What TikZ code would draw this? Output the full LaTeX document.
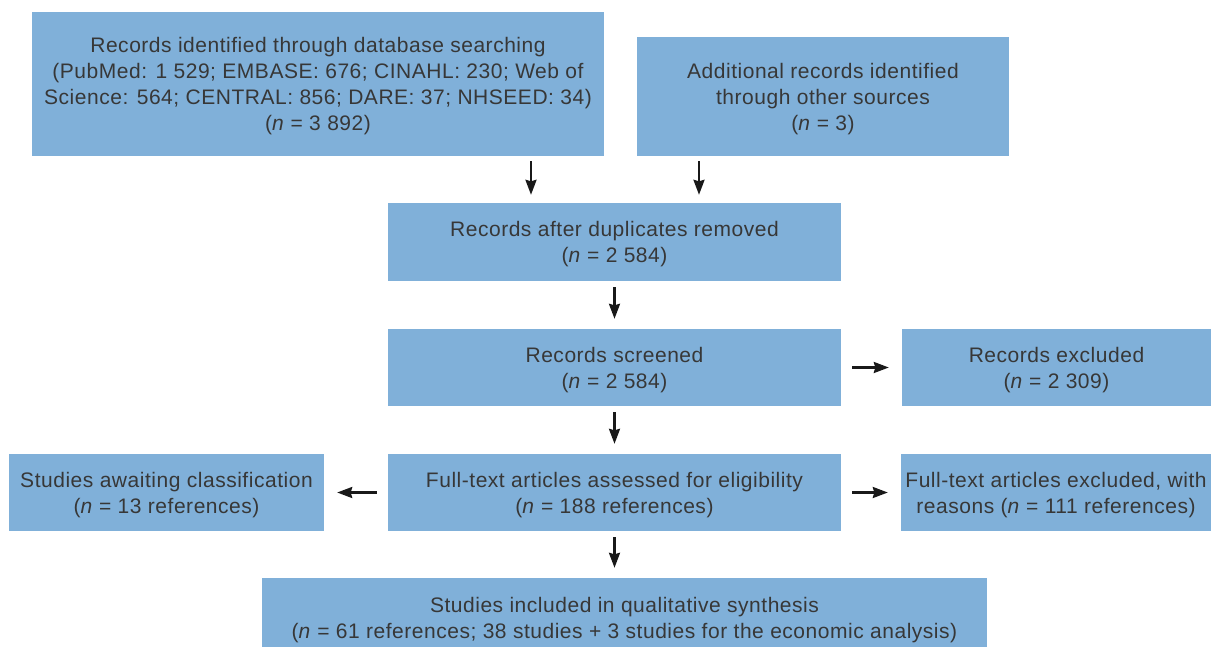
\documentclass[tikz,border=0pt]{standalone}
\usepackage{fontspec}
\setmainfont{Liberation Sans}[LetterSpace=2.5]
\usetikzlibrary{arrows.meta}
\definecolor{boxfill}{RGB}{128,176,217}
\definecolor{txt}{RGB}{55,55,55}
\begin{document}
\begin{tikzpicture}[x=1pt,y=-1pt,
  box/.style={fill=boxfill,draw=none,inner sep=0pt,align=center,text=txt,
    text depth=-3pt,font=\fontsize{21}{26}\selectfont},
  arr/.style={line width=2.3pt,draw=black!90,-{Stealth[length=15pt,width=11pt,inset=1.5pt]}}]
\clip (0,0) rectangle (1211,646);
\fill[white] (0,0) rectangle (1211,646);
\node[box,minimum width=572,minimum height=144] (A) at (318,84)
  {Records identified through database searching\\(PubMed: 1 529; EMBASE: 676; CINAHL: 230; Web of\\Science: 564; CENTRAL: 856; DARE: 37; NHSEED: 34)\\(\textit{n} = 3 892)};
\node[box,minimum width=372,minimum height=119] (B) at (823,96.5)
  {Additional records identified\\through other sources\\(\textit{n} = 3)};
\node[box,minimum width=453,minimum height=78] (C) at (614.5,242)
  {Records after duplicates removed\\(\textit{n} = 2 584)};
\node[box,minimum width=453,minimum height=77] (D) at (614.5,367.5)
  {Records screened\\(\textit{n} = 2 584)};
\node[box,minimum width=309,minimum height=77] (E) at (1056.5,367.5)
  {Records excluded\\(\textit{n} = 2 309)};
\node[box,minimum width=453,minimum height=77] (F) at (614.5,492.5)
  {Full-text articles assessed for eligibility\\(\textit{n} = 188 references)};
\node[box,minimum width=315,minimum height=77] (G) at (166.5,492.5)
  {Studies awaiting classification\\(\textit{n} = 13 references)};
\node[box,minimum width=310,minimum height=77] (H) at (1056,492.5)
  {Full-text articles excluded, with\\reasons (\textit{n} = 111 references)};
\node[box,minimum width=725,minimum height=80] (I) at (624.5,618)
  {Studies included in qualitative synthesis\\(\textit{n} = 61 references; 38 studies + 3 studies for the economic analysis)};
\coordinate (xa) at (531,0);
\coordinate (xb) at (699,0);
\draw[arr,shorten <=5pt,shorten >=8pt] (A.south -| xa) -- (C.north -| xa);
\draw[arr,shorten <=5pt,shorten >=8pt] (B.south -| xb) -- (C.north -| xb);
\draw[arr,shorten <=6pt,shorten >=10pt] (C) -- (D);
\draw[arr,shorten <=6pt,shorten >=10pt] (D) -- (F);
\draw[arr,shorten <=6pt,shorten >=10pt] (F) -- (I.north -| F);
\draw[arr,shorten <=11pt,shorten >=13pt] (D) -- (E);
\draw[arr,shorten <=11pt,shorten >=13pt] (F) -- (H);
\draw[arr,shorten <=11pt,shorten >=13pt] (F) -- (G);
\end{tikzpicture}
\end{document}
